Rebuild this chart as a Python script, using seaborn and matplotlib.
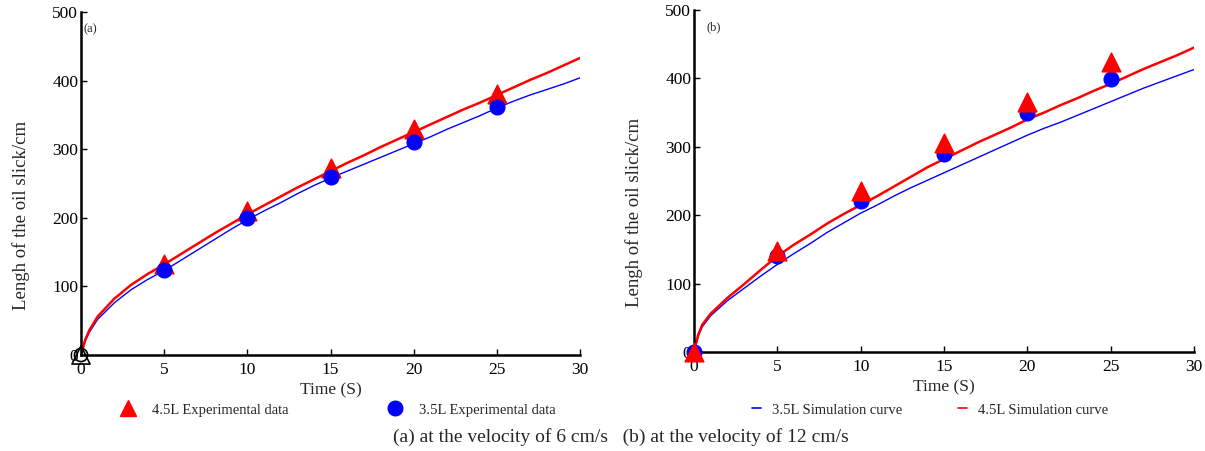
import numpy as np
import pandas as pd
import matplotlib
matplotlib.use("Agg")
import matplotlib.pyplot as plt
import seaborn as sns
from matplotlib.lines import Line2D

sns.set_theme(style="ticks")
plt.rcParams['font.family'] = ['Liberation Serif', 'DejaVu Serif']

# ---- data ----
t_exp = [0, 5, 10, 15, 20, 25]
a_exp_45 = [0, 133, 210, 273, 330, 381]
a_exp_35 = [0, 124, 200, 260, 311, 362]
b_exp_45 = [0, 147, 236, 305, 366, 424]
b_exp_35 = [0, 140, 221, 290, 350, 399]

t_sim = [0, 0.25, 0.5] + list(range(1, 31))
a_sim_45 = [0, 22, 36, 56, 82, 102, 118, 132, 147, 162, 177, 191, 205, 218, 231, 244, 256, 268,
            280, 291, 303, 314, 325, 336, 347, 358, 368, 379, 390, 401, 411, 422, 433]
a_sim_35 = [0, 20, 33, 52, 76, 95, 110, 123, 138, 153, 168, 183, 197, 210, 222, 235, 247, 258,
            268, 278, 288, 298, 308, 318, 329, 339, 349, 360, 370, 379, 387, 395, 404]
b_sim_45 = [0, 25, 40, 56, 79, 99, 120, 140, 157, 172, 188, 202, 215, 228, 242, 256, 270, 282,
            294, 306, 317, 328, 340, 350, 361, 371, 382, 392, 403, 414, 424, 434, 445]
b_sim_35 = [0, 23, 37, 53, 75, 93, 111, 128, 144, 159, 175, 189, 203, 215, 228, 240, 251, 262,
            273, 284, 295, 306, 317, 327, 336, 346, 356, 366, 376, 386, 395, 404, 413]

xticks = [0, 5, 10, 15, 20, 25, 30]
yticks = [0, 100, 200, 300, 400, 500]

RED = '#ff0000'
BLUE = '#0000ff'

fig = plt.figure(figsize=(12.05, 4.51), dpi=100)
ax1 = fig.add_axes([81/1205, 1-355/451, (580-81)/1205, (355-12)/451])
ax2 = fig.add_axes([694/1205, 1-352/451, (1194-694)/1205, (352-10)/451])

def draw(ax, sim45, sim35, exp45, exp35, tag, tagx, hollow_origin):
    sim = pd.DataFrame({'t': t_sim + t_sim,
                        'L': sim35 + sim45,
                        's': ['3.5L'] * len(t_sim) + ['4.5L'] * len(t_sim)})
    sns.lineplot(data=sim[sim.s == '3.5L'], x='t', y='L', color=BLUE, lw=1.0, ax=ax)
    sns.lineplot(data=sim[sim.s == '4.5L'], x='t', y='L', color=RED, lw=1.8, ax=ax)
    e35 = pd.DataFrame({'t': t_exp, 'L': exp35})
    e45 = pd.DataFrame({'t': t_exp, 'L': exp45})
    if hollow_origin:
        sns.scatterplot(data=e35.iloc[1:], x='t', y='L', color=BLUE, marker='o', s=115,
                        edgecolor=BLUE, ax=ax, zorder=4)
        sns.scatterplot(data=e45.iloc[1:], x='t', y='L', color=RED, marker='^', s=180,
                        edgecolor=RED, ax=ax, zorder=3)
        ax.scatter([t_exp[0]], [exp45[0]], marker='^', s=170, facecolor='none',
                   edgecolor='black', lw=1.2, zorder=5, clip_on=False)
        ax.scatter([t_exp[0]], [exp35[0]], marker='o', s=90, facecolor='none',
                   edgecolor='black', lw=1.2, zorder=5, clip_on=False)
    else:
        sns.scatterplot(data=e35, x='t', y='L', color=BLUE, marker='o', s=115,
                        edgecolor=BLUE, ax=ax, zorder=3)
        sns.scatterplot(data=e45, x='t', y='L', color=RED, marker='^', s=180,
                        edgecolor=RED, ax=ax, zorder=4)
    for c in ax.collections:
        c.set_clip_on(False)
    ax.set_xlim(0, 30)
    ax.set_ylim(0, 500)
    ax.set_xticks(xticks)
    ax.set_yticks(yticks)
    ax.tick_params(axis='both', direction='in', length=4, width=1, labelsize=12.5,
                   colors='black', pad=2)
    ax.tick_params(axis='x', pad=5)
    sns.despine(ax=ax)
    for sp in ['left', 'bottom']:
        ax.spines[sp].set_linewidth(1.8)
        ax.spines[sp].set_color('black')
    ax.set_xlabel('Time (S)', fontsize=12.5, labelpad=3)
    ax.set_ylabel('Lengh of the oil slick/cm', fontsize=13.5, labelpad=16)
    ax.yaxis.label.set_y(0.407)
    ax.text(tagx, 0.95, tag, transform=ax.transAxes, fontsize=9, va='center')
    ax.set_facecolor('white')

draw(ax1, a_sim_45, a_sim_35, a_exp_45, a_exp_35, '(a)', 0.005, True)
draw(ax2, b_sim_45, b_sim_35, b_exp_45, b_exp_35, '(b)', 0.026, False)

h1 = [Line2D([], [], ls='none', marker='^', ms=12, color=RED),
      Line2D([], [], ls='none', marker='o', ms=10.5, color=BLUE)]
fig.legend(h1, ['4.5L Experimental data', '3.5L Experimental data'],
           loc='center left', bbox_to_anchor=(106/1205, 1-410/451), ncol=2,
           frameon=False, fontsize=10.5, handlelength=1.2, handletextpad=1.04,
           columnspacing=6.7)
h2 = [Line2D([], [], color=BLUE, lw=1.2), Line2D([], [], color=RED, lw=1.2)]
fig.legend(h2, ['3.5L Simulation curve', '4.5L Simulation curve'],
           loc='center left', bbox_to_anchor=(739/1205, 1-410/451), ncol=2,
           frameon=False, fontsize=10.5, handlelength=0.62, handletextpad=0.75,
           columnspacing=3.8)

fig.text(621/1205, 1-437/451, '(a) at the velocity of 6 cm/s   (b) at the velocity of 12 cm/s',
         ha='center', va='center', fontsize=14)

fig.savefig('out.png', dpi=100, facecolor='white')
